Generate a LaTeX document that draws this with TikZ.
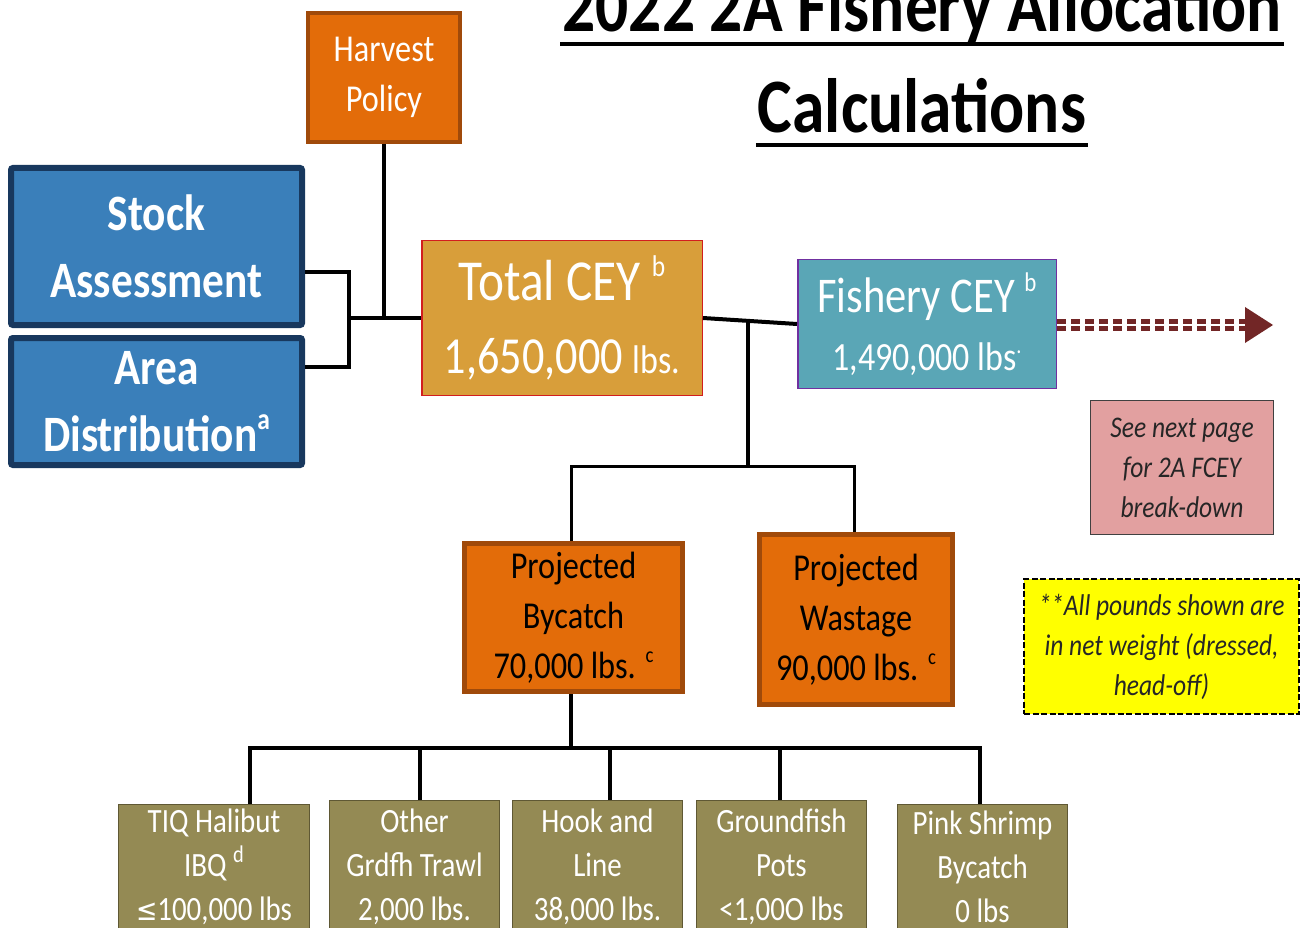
\documentclass[tikz,border=0pt]{standalone}
\usepackage{fontspec}
\setmainfont{Carlito}[FakeStretch=0.85]
\newfontfamily\symfont{DejaVu Sans}[FakeStretch=0.85]
\usetikzlibrary{calc}
\newcommand\supx[2]{\raisebox{0.42em}{\fontsize{#1}{#1}\selectfont #2}}
\definecolor{orfill}{RGB}{227,108,9}
\definecolor{ordark}{RGB}{160,74,10}
\definecolor{bluefill}{RGB}{58,127,186}
\definecolor{bluedark}{RGB}{24,56,94}
\definecolor{goldfill}{RGB}{216,158,58}
\definecolor{redline}{RGB}{210,30,30}
\definecolor{tealfill}{RGB}{90,166,182}
\definecolor{purpline}{RGB}{112,48,160}
\definecolor{pinkfill}{RGB}{226,160,160}
\definecolor{olivefill}{RGB}{148,138,84}
\definecolor{olivedark}{RGB}{95,88,52}
\definecolor{arrowcol}{RGB}{114,38,38}
\definecolor{notefill}{RGB}{255,255,0}
\tikzset{
  box/.style={rectangle, align=center, inner sep=0pt, text=white},
  harv/.style={box, fill=orfill, draw=ordark, line width=4pt, minimum width=152pt, minimum height=129pt, font=\fontsize{38}{50}\selectfont},
  bluebox/.style={box, fill=bluefill, draw=bluedark, line width=6pt, rounded corners=2pt, minimum width=291pt, font=\bfseries\fontsize{51}{67}\selectfont},
  totalbox/.style={box, fill=goldfill, draw=redline, line width=1.5pt, minimum width=280.5pt, minimum height=154.5pt, font=\fontsize{58}{73}\selectfont},
  fishbox/.style={box, fill=tealfill, draw=purpline, line width=1.5pt, minimum width=258.5pt, minimum height=128.5pt, font=\fontsize{50}{58}\selectfont},
  projbox/.style={box, fill=orfill, draw=ordark, line width=5pt, text=black, font=\fontsize{38}{50}\selectfont},
  notebox/.style={box, text=black!85, font=\itshape\fontsize{30}{40}\selectfont},
  olivebox/.style={box, fill=olivefill, draw=olivedark, line width=1.2pt, minimum width=169.8pt, font=\fontsize{34}{44}\selectfont},
  conn/.style={draw=black, line width=4pt},
  thinconn/.style={draw=black, line width=3pt},
  titletext/.style={inner sep=0pt, anchor=base, font=\bfseries\fontsize{77}{90}\selectfont},
}
\begin{document}
\begin{tikzpicture}[x=1pt,y=-1pt]
\useasboundingbox (0,0) rectangle (1302,928);
\fill[white] (0,0) rectangle (1302,928);

% title
\node[titletext] (t1) at (922,32) {2022 2A Fishery Allocation};
\node[titletext] (t2) at (922,133) {Calculations};
\draw[line width=4pt] ([shift={(-2pt,-12pt)}]t1.base west) -- ([shift={(2pt,-12pt)}]t1.base east);
\draw[line width=4pt] ([shift={(-2pt,-12pt)}]t2.base west) -- ([shift={(2pt,-12pt)}]t2.base east);

% upper boxes
\node[harv] (harvest) at (384,77.5) {Harvest\\Policy};
\node[bluebox, minimum height=157pt] (stock) at (156.5,246.5) {Stock\\Assessment};
\node[bluebox, minimum height=127pt] (area) at (156.5,401.5) {Area\\Distribution\supx{30}{a}};
\node[totalbox] (total) at (562,318) {Total CEY \supx{30}{b}\\{\fontsize{52}{73}\selectfont 1,650,000 {\fontsize{40}{40}\selectfont lbs.}}};
\node[fishbox] (fishery) at (927,324) {Fishery CEY \supx{27}{b}\\{\fontsize{40}{58}\selectfont 1,490,000 lbs\supx{24}{.}}};

\node[notebox, fill=pinkfill, draw=black!75, line width=1.2pt, minimum width=182.8pt, minimum height=133.8pt] (seenext) at (1182,467.5) {See next page\\for 2A FCEY\\break-down};
\node[notebox, fill=notefill, draw=black, dash pattern=on 6pt off 2.5pt, line width=2pt, minimum width=275pt, minimum height=135pt] (note) at (1161.5,646.5) {**All pounds shown are\\in net weight (dressed,\\head-off)};

\node[projbox, minimum width=218pt, minimum height=148pt] (bycatch) at (573.5,617.5) {Projected\\Bycatch\\70,000 lbs. \supx{22}{c}};
\node[projbox, minimum width=193pt, minimum height=170pt] (wastage) at (856,619.5) {Projected\\Wastage\\90,000 lbs. \supx{22}{c}};

% bottom boxes
\node[olivebox, minimum width=190.8pt, minimum height=124.8pt] (tiq) at (214,867) {TIQ Halibut\\IBQ \supx{24}{d}\\{\symfont\fontsize{30}{44}\selectfont ≤}100,000 lbs};
\node[olivebox, minimum height=132.8pt] (other) at (414.5,867) {Other\\Grdfh Trawl\\2,000 lbs.};
\node[olivebox, minimum height=132.8pt] (hook) at (597.5,867) {Hook and\\Line\\38,000 lbs.};
\node[olivebox, minimum height=132.8pt] (pots) at (781.5,867) {Groundfish\\Pots\\<1,00O lbs};
\node[olivebox, minimum height=124.8pt] (pink) at (982.5,867) {Pink Shrimp\\Bycatch\\0 lbs};

% connectors: inputs to total
\coordinate (jin) at (349,318);
\draw[conn] ([yshift=-25.5pt]stock.east) -| (jin) |- ([yshift=34.5pt]area.east);
\draw[conn] (jin) -- (total.west);
\draw[conn] (harvest.south) -- (harvest.south |- total.west);

% total to fishery and splits
\draw[conn] (total.east) -- (fishery.west);
\coordinate (jsplit) at (748,320);
\coordinate (jmid) at (748,466);
\draw[conn] (jsplit) -- (jmid);
\draw[thinconn] ([xshift=-2.5pt]bycatch.north) |- (jmid) -| ([xshift=-2pt]wastage.north);

% bycatch to sectors
\coordinate (jlow) at (571,748);
\draw[conn] ([xshift=-2.5pt]bycatch.south) -- (jlow);
\draw[conn] (jlow) -| ([xshift=36pt]tiq.north);
\draw[conn] ([xshift=5.5pt]other.north) |- (jlow);
\draw[conn] ([xshift=12.5pt]hook.north) |- (jlow);
\draw[conn] ([xshift=-1.5pt]pots.north) |- (jlow);
\draw[conn] (jlow) -| ([xshift=-2.5pt]pink.north);

% dashed arrow
\coordinate (arrend) at (1246,325);
\draw[draw=arrowcol, line width=5pt, double=white, double distance=1.5pt, dash pattern=on 9pt off 5pt] (fishery.east |- arrend) -- (arrend);
\fill[arrowcol] (1245,307) -- (1273,325) -- (1245,343) -- cycle;
\end{tikzpicture}
\end{document}
